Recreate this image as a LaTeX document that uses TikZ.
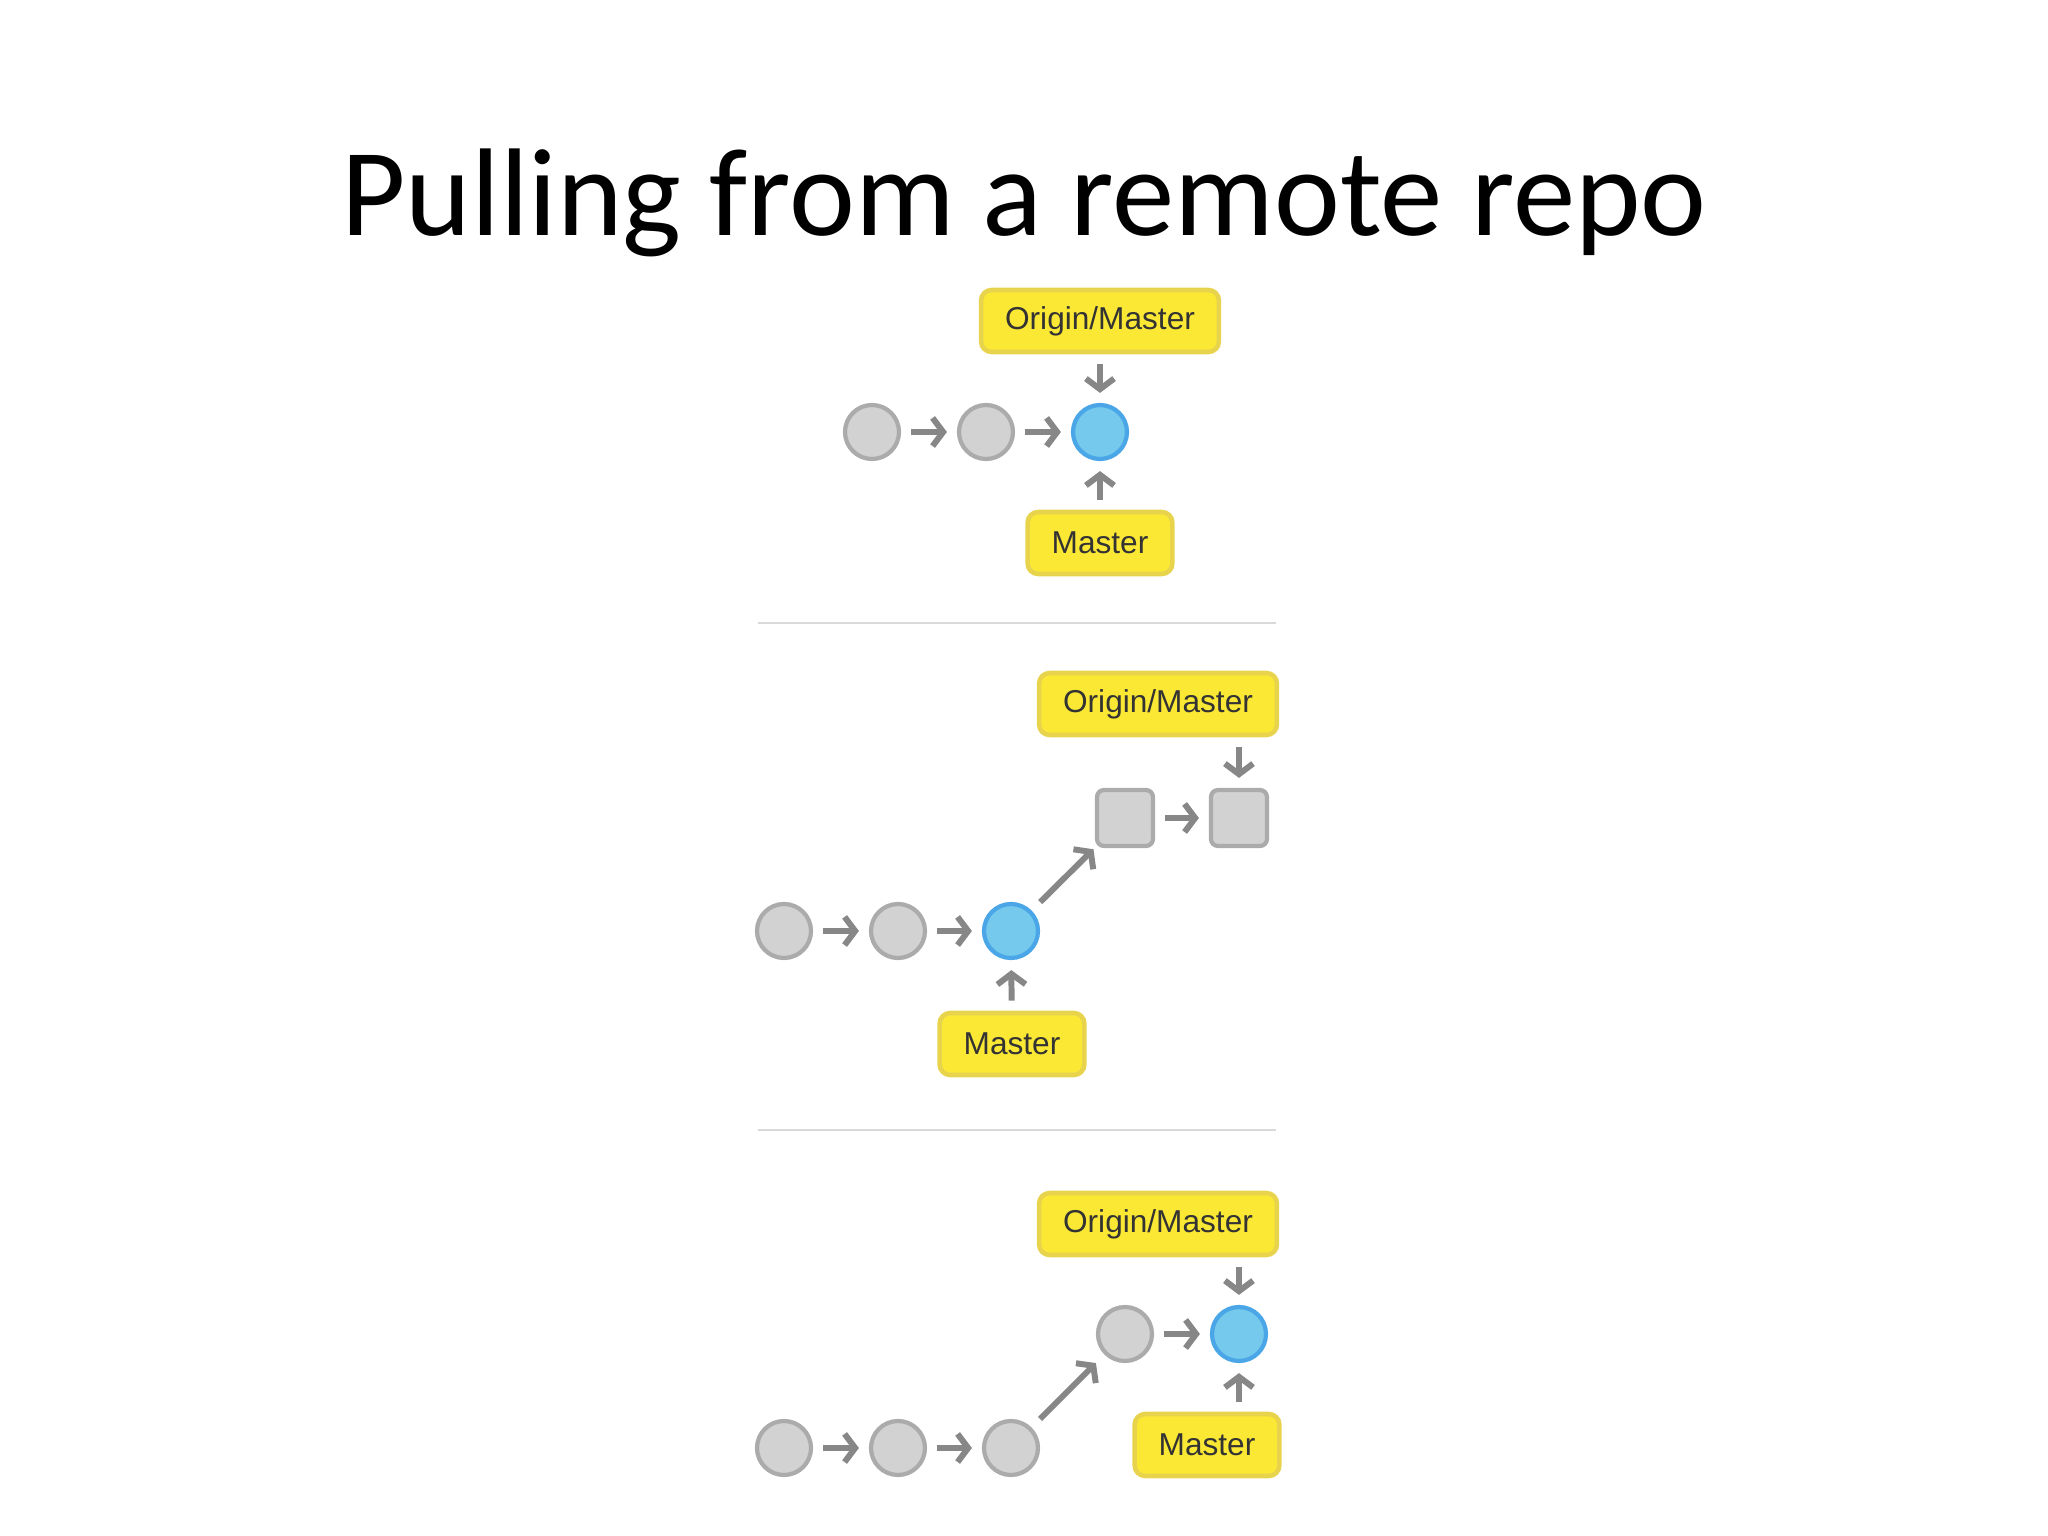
\documentclass[tikz,border=0pt]{standalone}
\usepackage{fontspec}
\setmainfont{Carlito}
\newfontfamily\labelfont{Liberation Sans}
\usepackage{tikz}
\usetikzlibrary{arrows.meta}
\definecolor{commitgray}{HTML}{D2D2D2}
\definecolor{commitborder}{HTML}{ABABAB}
\definecolor{headblue}{HTML}{74C9EC}
\definecolor{headborder}{HTML}{4AA6E6}
\definecolor{labelyellow}{HTML}{FBE835}
\definecolor{labelborder}{HTML}{E8D44C}
\definecolor{labeltext}{HTML}{333333}
\definecolor{arrowgray}{HTML}{878787}
\definecolor{rulegray}{HTML}{D9D9D9}

\begin{document}
\begin{tikzpicture}
\useasboundingbox (0,0) rectangle (20.48,-15.36);
\node (T)[anchor=base] at (10.24,-2.36) {\fontsize{35.5}{42}\selectfont Pulling from a remote repo};

% commits
\begin{scope}[every node/.style={circle,draw=commitborder,fill=commitgray,line width=1.2pt,minimum size=0.54cm,inner sep=0pt}]
    \node (A1) at (8.72,-4.32) {};
    \node (B1) at (9.86,-4.32) {};
    \node (C1)[draw=headborder,fill=headblue] at (11.00,-4.32) {};

    \node (A2) at (7.84,-9.31) {};
    \node (B2) at (8.98,-9.31) {};
    \node (C2)[draw=headborder,fill=headblue] at (10.11,-9.31) {};
    \node (D2)[rectangle,rounded corners=2pt,minimum size=0.56cm] at (11.25,-8.18) {};
    \node (E2)[rectangle,rounded corners=2pt,minimum size=0.56cm] at (12.39,-8.18) {};

    \node (A3) at (7.84,-14.48) {};
    \node (B3) at (8.98,-14.48) {};
    \node (C3) at (10.11,-14.48) {};
    \node (D3) at (11.25,-13.34) {};
    \node (E3)[draw=headborder,fill=headblue] at (12.39,-13.34) {};
\end{scope}

% branch labels
\begin{scope}[every node/.style={rectangle,rounded corners=3pt,draw=labelborder,fill=labelyellow,line width=1.3pt,
              minimum height=0.62cm,inner xsep=0.24cm,text=labeltext,font=\labelfont\fontsize{9}{11}\selectfont}]
    \node (O1) at (11.00,-3.21) {Origin/Master};
    \node (M1) at (11.00,-5.43) {Master};
    \node (O2) at (11.58,-7.04) {Origin/Master};
    \node (M2) at (10.12,-10.44) {Master};
    \node (O3) at (11.58,-12.24) {Origin/Master};
    \node (M3) at (12.07,-14.45) {Master};
\end{scope}

% separators
\coordinate (S1a) at (7.58,-6.23);
\coordinate (S1b) at (12.76,-6.23);
\coordinate (S2a) at (7.58,-11.30);
\coordinate (S2b) at (12.76,-11.30);
\draw[rulegray,line width=0.6pt] (S1a) -- (S1b);
\draw[rulegray,line width=0.6pt] (S2a) -- (S2b);

\begin{scope}[every edge/.style={draw=arrowgray,line width=1.7pt,-{Straight Barb[length=3pt,width=8pt]},
              shorten <=0.1cm,shorten >=0.1cm}]
    \path (A1) edge (B1);
    \path (B1) edge (C1);
    \path (O1) edge (C1);
    \path (M1) edge (C1);

    \path (A2) edge (B2);
    \path (B2) edge (C2);
    \path (C2) edge[shorten <=0.12cm,shorten >=0.02cm] (D2);
    \path (D2) edge (E2);
    \path (O2.south -| E2) edge (E2);
    \path (M2) edge (C2);

    \path (A3) edge (B3);
    \path (B3) edge (C3);
    \path (C3) edge[shorten <=0.12cm,shorten >=0.12cm] (D3);
    \path (D3) edge (E3);
    \path (O3.south -| E3) edge (E3);
    \path (M3.north -| E3) edge (E3);
\end{scope}
\end{tikzpicture}
\end{document}
